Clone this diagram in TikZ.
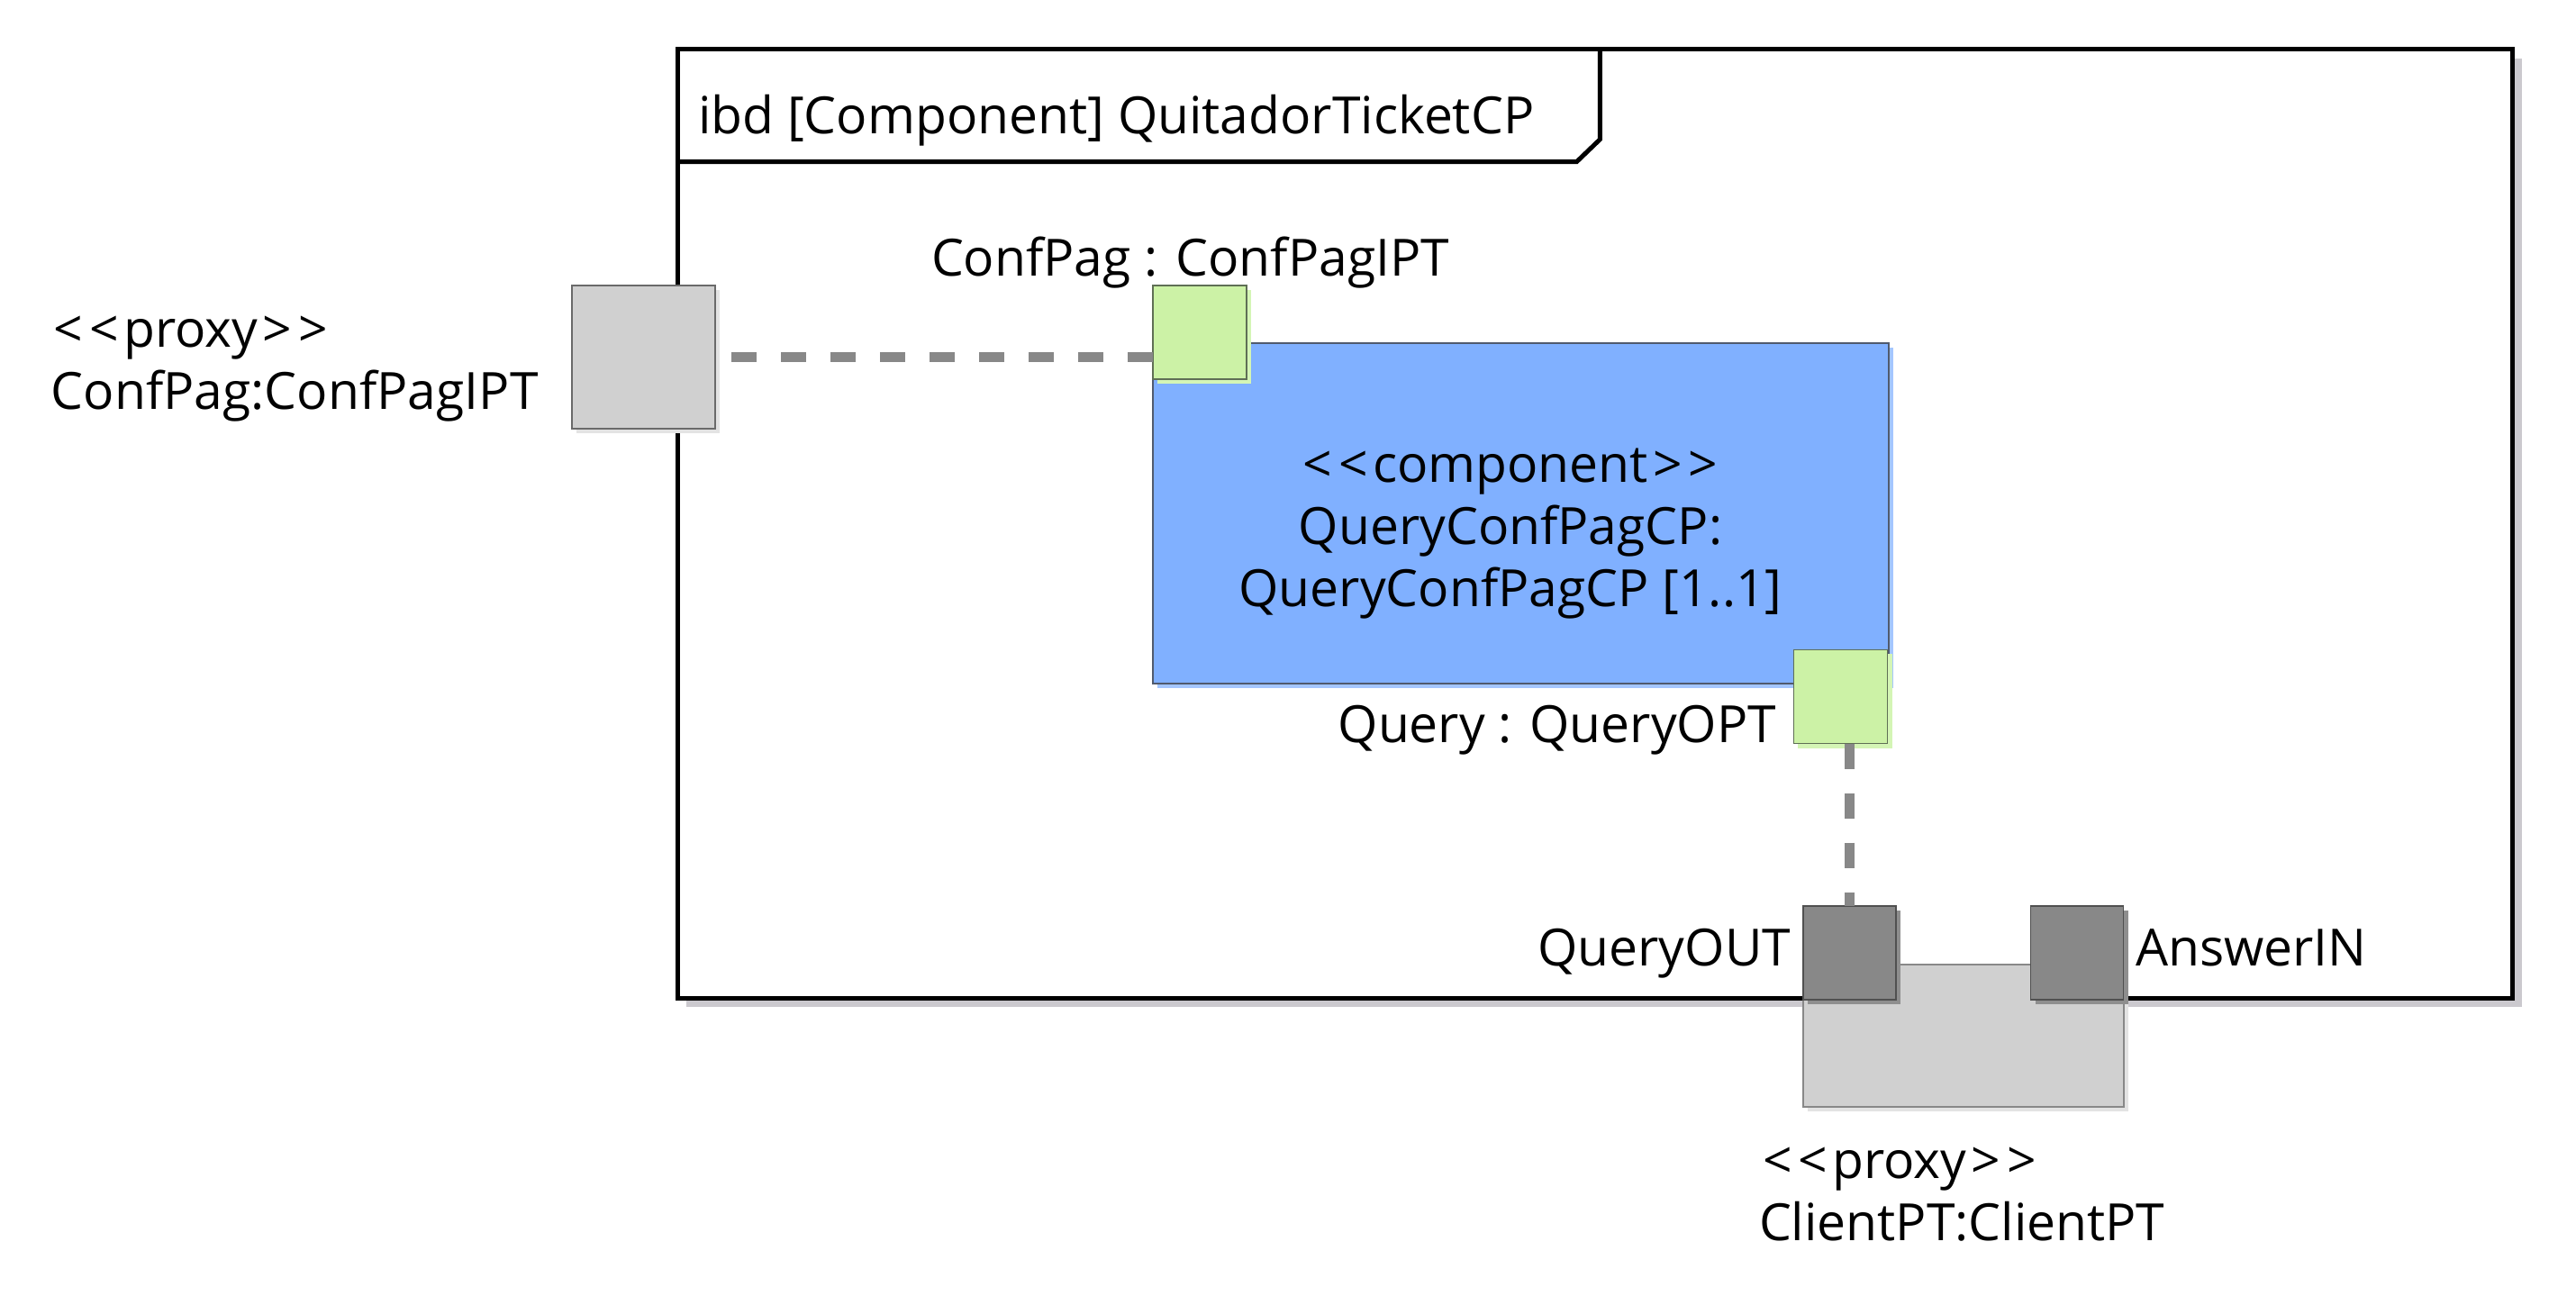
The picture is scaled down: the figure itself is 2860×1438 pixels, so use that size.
\documentclass[tikz,border=0pt]{standalone}
\usepackage{fontspec}
\setmainfont{Open Sans}
\usetikzlibrary{shadows}
\definecolor{framesh}{HTML}{CBC9CE}
\definecolor{portgreen}{HTML}{CCF2A6}
\definecolor{greensh}{HTML}{D4F5B5}
\definecolor{greenborder}{HTML}{5F6F55}
\definecolor{compblue}{HTML}{80B0FF}
\definecolor{bluesh}{HTML}{A4C6FF}
\definecolor{blueborder}{HTML}{505A6E}
\definecolor{proxygray}{HTML}{D0D0D0}
\definecolor{proxysh}{HTML}{E3E3E3}
\definecolor{proxyborder}{HTML}{6A6A6A}
\definecolor{darkport}{HTML}{888888}
\definecolor{darkportsh}{HTML}{8E8E8E}
\definecolor{darkborder}{HTML}{505050}
\definecolor{dashgray}{HTML}{888888}
\newcommand\stLeft{<\kern2pt<\kern1.5pt}
\newcommand\stRight{\kern1.5pt>\kern2pt>}
\begin{document}
\begin{tikzpicture}[x=0.01cm,y=-0.01cm,
  every node/.style={inner sep=0pt, outer sep=0pt},
  lbl/.style={font=\fontsize{16.2}{19.6}\selectfont, text=black},
  frameline/.style={line width=0.05cm, black, line join=miter},
  conn/.style={draw=dashgray, line width=0.115cm, dash pattern=on 0.28cm off 0.27cm},
  shd/.style={drop shadow={shadow xshift=0.05cm, shadow yshift=-0.05cm, fill=#1, opacity=1}},
  greenport/.style={draw=greenborder, fill=portgreen, line width=0.5pt,
    minimum width=1.04cm, minimum height=1.04cm, shd=greensh},
  darkportbox/.style={draw=darkborder, fill=darkport, line width=0.5pt,
    minimum width=1.03cm, minimum height=1.04cm, shd=darkportsh},
  proxybox/.style={draw=proxyborder, fill=proxygray, line width=0.5pt, shd=proxysh},
  compbox/.style={draw=blueborder, fill=compblue, line width=0.5pt,
    minimum width=8.17cm, minimum height=3.78cm, shd=bluesh}
]
\useasboundingbox (0,0) rectangle (2860,1438);

% frame
\node[draw=black, fill=white, line width=0.05cm, minimum width=20.36cm, minimum height=10.53cm,
  drop shadow={shadow xshift=0.1cm, shadow yshift=-0.1cm, fill=framesh, opacity=1}]
  (frame) at (1771,581.5) {};
\draw[frameline] (frame.north west) ++(0,125) -- ++(998,0) -- ++(26,-25) -- ++(0,-100);
\node[lbl, anchor=base west] (title) at (775,148) {ibd [Component] QuitadorTicketCP};

% component
\node[compbox] (comp) at (1688.5,570) {};
\node[lbl, align=center, anchor=base] (compLbl) at (1677,673)
  {\stLeft component\stRight\\QueryConfPagCP:\\QueryConfPagCP [1..1]};

% ports
\node[proxybox, minimum width=1.59cm, minimum height=1.59cm] (cpPort) at (714.5,396.5) {};
\node[greenport] (gCP) at (1332,369) {};
\node[greenport] (gQ) at (2043.5,773.5) {};
\node[proxybox, draw=proxyborder!80, minimum width=3.56cm, minimum height=1.58cm] (client) at (2180,1150) {};
\node[darkportbox] (qOut) at (2053.5,1058) {};
\node[darkportbox] (aIn) at (2306,1058) {};

% connectors
\draw[conn] (gCP.west |- cpPort.east) -- (cpPort.east);
\draw[conn] (gQ.south -| qOut.north) -- (qOut.north);

% labels
\node[lbl, anchor=base west] (cpProxy) at (60,385) {\stLeft proxy\stRight};
\node[lbl, anchor=base west] (cpName) at (57,454) {ConfPag:ConfPagIPT};
\node[lbl, anchor=base west] (gCPLbl) at (1034,306) {ConfPag : ConfPagIPT};
\node[lbl, anchor=base east] (gQLbl) at (1972,824) {Query : QueryOPT};
\node[lbl, anchor=base east] (qOutLbl) at (1988,1072) {QueryOUT};
\node[lbl, anchor=base west] (aInLbl) at (2371,1072) {AnswerIN};
\node[lbl, anchor=base west] (clProxy) at (1957,1308) {\stLeft proxy\stRight};
\node[lbl, anchor=base west] (clName) at (1953,1377) {ClientPT:ClientPT};
\end{tikzpicture}
\end{document}
